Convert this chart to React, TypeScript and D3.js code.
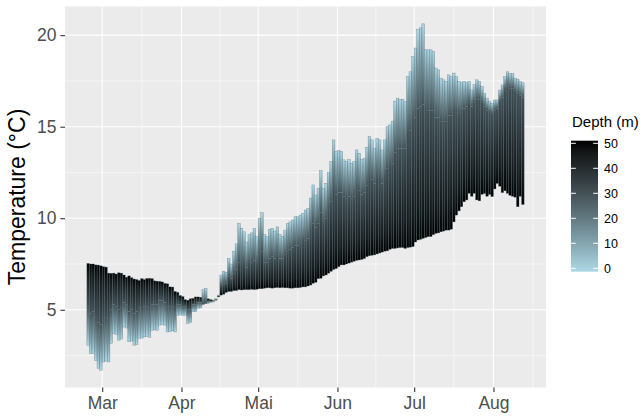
import { useEffect, useRef } from 'react';
import * as d3 from 'd3';

// daily lake temperature (°C), one value per day starting at firstDay
const firstDay = '2017-02-23';

const surfaceTemp = [
  3.06, 2.6, 2.62, 2.24, 1.8, 1.7, 2.15, 2.2, 2.15, 3.17,
  3.7, 3.65, 3.34, 3.4, 4.06, 4.0, 3.25, 3.3, 3.06, 3.1,
  3.45, 3.45, 3.52, 3.55, 3.5, 3.88, 3.9, 3.88, 4.16, 4.2,
  4.16, 3.79, 3.8, 3.85, 3.79, 4.7, 4.72, 4.7, 4.7, 4.25,
  4.3, 4.89, 4.9, 5.07, 5.1, 6.1, 6.16, 5.35, 5.4, 5.45,
  5.6, 5.8, 6.9, 7.1, 7.05, 7.8, 7.5, 8.2, 8.6, 9.72,
  9.45, 9.26, 8.7, 9.1, 9.2, 9.45, 9.0, 10.0, 10.3, 9.1,
  9.0, 9.4, 9.45, 9.3, 9.53, 9.1, 9.0, 9.35, 9.7, 9.8,
  9.9, 10.08, 10.08, 10.17, 10.26, 10.45, 10.54, 11.1, 11.82, 11.27,
  11.64, 12.6, 11.64, 11.9, 12.5, 13.1, 14.28, 13.65, 13.7, 13.64,
  13.19, 13.1, 13.2, 13.0, 13.1, 13.73, 13.55, 13.2, 13.28, 13.88,
  14.46, 14.28, 13.83, 14.37, 14.28, 13.73, 14.28, 15.0, 15.1, 15.3,
  16.4, 16.56, 16.5, 16.5, 16.37, 17.74, 18.0, 18.83, 19.3, 20.3,
  20.4, 20.62, 19.2, 19.2, 19.2, 19.1, 18.2, 18.1, 17.65, 17.56,
  17.47, 17.83, 17.74, 17.93, 17.74, 17.47, 17.4, 17.47, 17.4, 17.47,
  17.01, 17.3, 17.56, 17.47, 17.19, 16.83, 16.56, 16.37, 16.28, 16.46,
  16.46, 17.0, 17.28, 17.74, 18.0, 17.9, 17.9, 17.65, 17.6, 17.47, 17.4,
];

const temp30m = [
  5.2, 4.8, 4.9, 4.6, 4.3, 4.2, 4.5, 4.6, 4.5, 5.0,
  5.3, 5.2, 5.0, 5.1, 5.4, 5.3, 4.9, 5.0, 4.8, 4.9,
  5.1, 5.1, 5.2, 5.2, 5.1, 5.3, 5.3, 5.3, 5.5, 5.5,
  5.4, 5.2, 5.2, 5.2, 5.1, 5.3, 5.3, 5.2, 5.2, 5.0,
  5.0, 5.3, 5.3, 5.4, 5.4, 5.3, 5.35, 5.45, 5.45, 5.45,
  5.55, 5.75, 6.3, 6.4, 6.45, 6.8, 6.7, 7.0, 7.2, 7.6,
  7.5, 7.5, 7.3, 7.5, 7.6, 7.7, 7.5, 8.0, 8.2, 7.6,
  7.6, 7.8, 7.9, 7.8, 8.0, 7.8, 7.8, 8.0, 8.2, 8.3,
  8.4, 8.5, 8.5, 8.6, 8.7, 8.8, 8.9, 9.3, 9.7, 9.5,
  9.7, 10.3, 9.8, 10.0, 10.5, 10.9, 11.6, 11.3, 11.4, 11.4,
  11.2, 11.1, 11.2, 11.1, 11.2, 11.6, 11.5, 11.3, 11.4, 11.8,
  12.2, 12.1, 11.9, 12.2, 12.2, 11.9, 12.2, 12.7, 12.8, 13.0,
  13.6, 13.8, 13.8, 13.8, 13.8, 14.6, 14.8, 15.2, 15.5, 16.0,
  16.1, 16.2, 15.8, 15.9, 15.9, 15.9, 15.5, 15.5, 15.3, 15.3,
  15.3, 15.6, 15.6, 15.8, 15.8, 15.7, 15.8, 16.0, 16.1, 16.3,
  16.1, 16.3, 16.5, 16.5, 16.3, 16.1, 15.9, 15.8, 15.7, 15.9,
  16.0, 16.4, 16.6, 17.0, 17.2, 17.1, 17.1, 16.9, 16.8, 16.7, 16.6,
];

const temp50m = [
  7.53, 7.5, 7.5, 7.45, 7.44, 7.4, 7.35, 7.33, 7.0, 6.99,
  7.0, 6.95, 7.02, 7.0, 6.9, 6.78, 6.85, 6.75, 6.68, 6.65,
  6.6, 6.7, 6.65, 6.71, 6.72, 6.7, 6.58, 6.56, 6.55, 6.52,
  6.44, 6.42, 6.25, 6.24, 6.0, 5.95, 5.78, 5.72, 5.55, 5.52,
  5.6, 5.62, 5.7, 5.7, 5.68, 5.6, 5.6, 5.6, 5.55, 5.5,
  5.55, 5.7, 5.8, 5.85, 5.95, 6.0, 6.0, 6.05, 6.05, 6.1,
  6.08, 6.1, 6.1, 6.1, 6.12, 6.1, 6.12, 6.15, 6.15, 6.18,
  6.2, 6.2, 6.18, 6.2, 6.22, 6.2, 6.22, 6.2, 6.2, 6.18,
  6.18, 6.2, 6.2, 6.22, 6.25, 6.25, 6.3, 6.35, 6.45, 6.5,
  6.7, 6.72, 6.85, 6.9, 7.0, 7.1, 7.2, 7.25, 7.35, 7.45,
  7.45, 7.5, 7.55, 7.6, 7.65, 7.7, 7.72, 7.75, 7.8, 7.9,
  7.95, 7.98, 8.0, 8.05, 8.1, 8.15, 8.2, 8.22, 8.3, 8.35,
  8.35, 8.38, 8.4, 8.4, 8.35, 8.4, 8.42, 8.45, 8.7, 8.81,
  8.85, 8.9, 8.95, 8.99, 9.0, 9.1, 9.17, 9.2, 9.26, 9.3,
  9.35, 9.35, 9.4, 9.8, 10.17, 10.4, 10.63, 10.9, 11.0, 11.36,
  11.2, 11.36, 11.0, 10.95, 11.3, 11.35, 11.2, 11.3, 11.18, 11.6,
  11.9, 11.75, 11.4, 11.5, 11.36, 11.25, 11.2, 11.15, 10.63, 11.2, 10.75,
];

const depths = [0, 30, 50];
const depthTicks = [0, 10, 20, 30, 40, 50];
const yTicks = [5, 10, 15, 20];
const yMinorTicks = [2.5, 7.5, 12.5, 17.5];
const monthStarts = ['2017-03-01', '2017-04-01', '2017-05-01', '2017-06-01', '2017-07-01', '2017-08-01'];
const monthLabels = ['Mar', 'Apr', 'Mai', 'Jun', 'Jul', 'Aug'];

const width = 644;
const height = 416;
const margin = { top: 6.5, right: 98, bottom: 28.5, left: 65 };
const font = '"Liberation Sans", Arial, Helvetica, sans-serif';
const DAY = 864e5;

export default function App() {
  const svgRef = useRef<SVGSVGElement>(null);

  useEffect(() => {
    if (!svgRef.current) return;
    const svg = d3.select(svgRef.current);
    svg.selectAll('*').remove();

    const left = margin.left;
    const right = width - margin.right;
    const top = margin.top;
    const bottom = height - margin.bottom;

    const parse = d3.utcParse('%Y-%m-%d');
    const start = parse(firstDay)!.getTime();
    const dates = surfaceTemp.map((_, i) => new Date(start + i * DAY));
    const series = [surfaceTemp, temp30m, temp50m];

    // x: bar extents + 5% expansion (like ggplot)
    const xMin = dates[0].getTime();
    const xMax = dates[dates.length - 1].getTime() + DAY;
    const padX = (xMax - xMin) * 0.05;
    const x = d3.scaleUtc().domain([xMin - padX, xMax + padX]).range([left, right]);

    const [lo, hi] = d3.extent(series.flat()) as [number, number];
    const padY = (hi - lo) * 0.05;
    const y = d3.scaleLinear().domain([lo - padY, hi + padY]).range([bottom, top]);

    const color = d3.scaleLinear<string>()
      .domain([0, 50])
      .range(['#ADD8E6', '#000000'])
      .interpolate(d3.interpolateLab);

    const defs = svg.append('defs');
    defs.append('clipPath').attr('id', 'panel-clip')
      .append('rect')
      .attr('x', left).attr('y', top)
      .attr('width', right - left).attr('height', bottom - top);

    // gradients for each depth segment, both orientations
    for (let k = 0; k < depths.length - 1; k++) {
      const a = depths[k];
      const b = depths[k + 1];
      [['down', a, b], ['up', b, a]].forEach(([dir, first, last]) => {
        const g = defs.append('linearGradient')
          .attr('id', `seg-${a}-${b}-${dir}`)
          .attr('x1', 0).attr('y1', 0).attr('x2', 0).attr('y2', 1);
        d3.range(0, 1.0001, 0.25).forEach(f => {
          g.append('stop')
            .attr('offset', f)
            .attr('stop-color', color((first as number) + ((last as number) - (first as number)) * f));
        });
      });
    }

    // panel background
    svg.append('rect')
      .attr('x', left).attr('y', top)
      .attr('width', right - left).attr('height', bottom - top)
      .attr('fill', '#EBEBEB');

    // grid
    const majors = monthStarts.map(s => parse(s)!);
    const step = majors[1].getTime() - majors[0].getTime();
    const ext = [majors[0].getTime() - step, ...majors.map(d => d.getTime()), majors[majors.length - 1].getTime() + step];
    const xMinor = d3.pairs(ext).map(([p, q]) => (p + q) / 2)
      .filter(v => x(v) >= left && x(v) <= right);

    const grid = svg.append('g');
    grid.selectAll('.ymin').data(yMinorTicks.filter(v => y(v) <= bottom && y(v) >= top)).join('line')
      .attr('x1', left).attr('x2', right)
      .attr('y1', d => y(d)).attr('y2', d => y(d))
      .attr('stroke', '#fff').attr('stroke-width', 0.55);
    grid.selectAll('.xmin').data(xMinor).join('line')
      .attr('x1', d => x(d)).attr('x2', d => x(d))
      .attr('y1', top).attr('y2', bottom)
      .attr('stroke', '#fff').attr('stroke-width', 0.55);
    grid.selectAll('.ymaj').data(yTicks).join('line')
      .attr('x1', left).attr('x2', right)
      .attr('y1', d => y(d)).attr('y2', d => y(d))
      .attr('stroke', '#fff').attr('stroke-width', 1.1);
    grid.selectAll('.xmaj').data(majors).join('line')
      .attr('x1', d => x(d)).attr('x2', d => x(d))
      .attr('y1', top).attr('y2', bottom)
      .attr('stroke', '#fff').attr('stroke-width', 1.1);

    // bars: one per day, coloured by depth between measured temperatures
    const bars = svg.append('g').attr('clip-path', 'url(#panel-clip)');
    dates.forEach((d, i) => {
      const bx = x(d);
      const bw = x(new Date(d.getTime() + DAY)) - bx;
      for (let k = depths.length - 2; k >= 0; k--) {
        const ta = series[k][i];
        const tb = series[k + 1][i];
        const dir = ta >= tb ? 'down' : 'up';
        const y0 = y(Math.max(ta, tb));
        const y1 = y(Math.min(ta, tb));
        bars.append('rect')
          .attr('x', bx).attr('width', bw)
          .attr('y', y0).attr('height', Math.max(y1 - y0, 0.6))
          .attr('fill', `url(#seg-${depths[k]}-${depths[k + 1]}-${dir})`);
      }
      const vals = series.map(s => s[i]);
      bars.append('rect')
        .attr('x', bx).attr('width', bw)
        .attr('y', y(d3.max(vals)!))
        .attr('height', y(d3.min(vals)!) - y(d3.max(vals)!))
        .attr('fill', 'none')
        .attr('stroke', '#45626a')
        .attr('stroke-opacity', 0.6)
        .attr('stroke-width', 0.5);
    });

    // axes
    const xAxis = svg.append('g')
      .attr('transform', `translate(0,${bottom})`)
      .call(d3.axisBottom(x).tickValues(majors).tickSize(4.6).tickPadding(4.4)
        .tickFormat((_, i) => monthLabels[i]));
    const yAxis = svg.append('g')
      .attr('transform', `translate(${left},0)`)
      .call(d3.axisLeft(y).tickValues(yTicks).tickSize(4.6).tickPadding(4));
    [xAxis, yAxis].forEach(ax => {
      ax.select('.domain').remove();
      ax.selectAll('line').attr('stroke', '#333333').attr('stroke-width', 1.1);
      ax.selectAll('text')
        .attr('fill', '#4D4D4D')
        .style('font-family', font)
        .style('font-size', '17.5px');
    });

    svg.append('text')
      .attr('transform', `translate(25,${(top + bottom) / 2}) rotate(-90)`)
      .attr('text-anchor', 'middle')
      .style('font-family', font)
      .style('font-size', '23px')
      .attr('fill', '#000')
      .text('Temperature (°C)');

    // legend
    const barX = 571;
    const barW = 27;
    const barTop = 140.7;
    const barH = 131;
    const legendY = d3.scaleLinear().domain([50, 0]).range([barTop + 2.6, barTop + barH - 3.4]);

    svg.append('text')
      .attr('x', barX + 1)
      .attr('y', 127)
      .style('font-family', font)
      .style('font-size', '15px')
      .attr('fill', '#000')
      .text('Depth (m)');

    const lg = defs.append('linearGradient')
      .attr('id', 'legend-grad')
      .attr('x1', 0).attr('y1', 0).attr('x2', 0).attr('y2', 1);
    d3.range(50, -0.001, -5).forEach(dv => {
      lg.append('stop')
        .attr('offset', (50 - dv) / 50)
        .attr('stop-color', color(dv));
    });
    svg.append('rect')
      .attr('x', barX).attr('y', barTop)
      .attr('width', barW).attr('height', barH)
      .attr('fill', 'url(#legend-grad)');

    const lt = svg.append('g');
    depthTicks.forEach(dv => {
      const ty = legendY(dv);
      lt.append('line')
        .attr('x1', barX).attr('x2', barX + barW / 5.6)
        .attr('y1', ty).attr('y2', ty)
        .attr('stroke', '#fff').attr('stroke-width', 1);
      lt.append('line')
        .attr('x1', barX + barW - barW / 5.6).attr('x2', barX + barW)
        .attr('y1', ty).attr('y2', ty)
        .attr('stroke', '#fff').attr('stroke-width', 1);
      lt.append('text')
        .attr('x', barX + barW + 6)
        .attr('y', ty)
        .attr('dy', '0.36em')
        .style('font-family', font)
        .style('font-size', '12.5px')
        .attr('fill', '#000')
        .text(String(dv));
    });
  }, []);

  return (
    <svg
      ref={svgRef}
      width={width}
      height={height}
      viewBox={`0 0 ${width} ${height}`}
      style={{ position: 'absolute', left: 0, top: 0, background: '#fff' }}
    />
  );
}
